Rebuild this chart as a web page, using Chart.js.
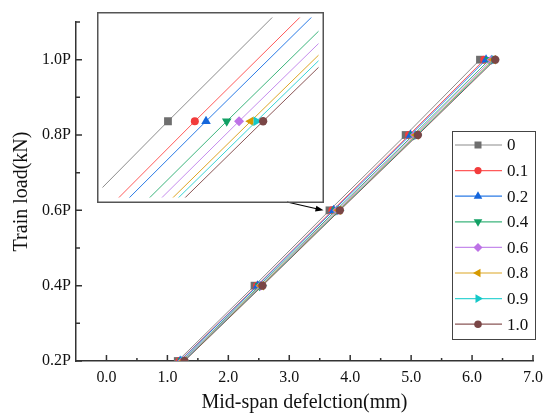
<!DOCTYPE html>
<html>
<head>
<meta charset="utf-8">
<script src="https://cdn.jsdelivr.net/npm/chart.js@4.4.1/dist/chart.umd.min.js"></script>
<style>
  body { margin: 0; background: #fff; }
  #wrap { position: relative; width: 544px; height: 415px; }
  #mainChart { position: absolute; left: 0; top: 0; }
  #insetChart { position: absolute; left: 97px; top: 12px; }
</style>
</head>
<body>
<div id="wrap">
  <canvas id="mainChart" width="544" height="415"></canvas>
  <canvas id="insetChart" width="227" height="191"></canvas>
</div>
<script>
// load levels (fraction of P)
const loads = [0.2, 0.4, 0.6, 0.8, 1.0];

// mid-span deflection (mm) for each series
const defl_0   = [1.17, 2.43, 3.660, 4.910, 6.130];
const defl_0_1 = [1.20, 2.47, 3.708, 4.966, 6.200];
const defl_0_2 = [1.21, 2.48, 3.728, 4.990, 6.230];
const defl_0_4 = [1.24, 2.51, 3.765, 5.034, 6.285];
const defl_0_6 = [1.25, 2.53, 3.787, 5.060, 6.320];
const defl_0_8 = [1.265, 2.54, 3.808, 5.084, 6.348];
const defl_0_9 = [1.27, 2.55, 3.818, 5.096, 6.363];
const defl_1_0 = [1.28, 2.56, 3.830, 5.110, 6.380];

const seriesLabels = ['0', '0.1', '0.2', '0.4', '0.6', '0.8', '0.9', '1.0'];
const seriesData = [defl_0, defl_0_1, defl_0_2, defl_0_4, defl_0_6, defl_0_8, defl_0_9, defl_1_0];

const xTickVals = [0, 1, 2, 3, 4, 5, 6, 7];
const xTickLabels = ['0.0', '1.0', '2.0', '3.0', '4.0', '5.0', '6.0', '7.0'];
const yTickVals = [0.2, 0.4, 0.6, 0.8, 1.0];
const yTickLabels = ['0.2P', '0.4P', '0.6P', '0.8P', '1.0P'];

const markerColors = ['#6e6e6e', '#f23c3c', '#1466dc', '#12a064', '#bd72e6', '#d69a00', '#14c8c8', '#7a4646'];
const lineColors   = ['#8c8c8c', '#ff5a5a', '#2b7be6', '#3cb57c', '#c58cec', '#dca625', '#3ad4d4', '#8a5656'];
const pointStyles  = ['rect', 'circle', 'triangle', 'triangle', 'rectRot', 'triangle', 'triangle', 'circle'];
const pointRots    = [0, 0, 0, 180, 0, 270, 90, 0];
const pointSizes   = [5.5, 4, 5.5, 5.5, 5, 5.5, 5.5, 4.2];

const serif = "'Liberation Serif', 'Times New Roman', serif";

function makeDatasets() {
    return seriesData.map((vals, i) => ({
        label: seriesLabels[i],
        data: vals.map((v, k) => ({x: v, y: loads[k]})),
        borderColor: lineColors[i],
        backgroundColor: markerColors[i],
        pointBackgroundColor: markerColors[i],
        pointBorderColor: markerColors[i],
        pointBorderWidth: 0,
        borderWidth: 1,
        pointRadius: pointSizes[i],
        pointStyle: pointStyles[i],
        rotation: pointRots[i],
        order: seriesData.length - i
    }));
}

// inward major / minor ticks
const innerTicks = {
    id: 'innerTicks',
    afterDraw(chart) {
        const ctx = chart.ctx;
        const xs = chart.scales.x, ys = chart.scales.y;
        const area = chart.chartArea;
        ctx.save();
        ctx.strokeStyle = '#333';
        ctx.lineWidth = 1.5;
        ctx.beginPath();
        xTickVals.forEach(v => {
            const px = xs.getPixelForValue(v);
            ctx.moveTo(px, area.bottom); ctx.lineTo(px, area.bottom - 6);
        });
        for (let v = 0.5; v < 7; v += 1) {
            const px = xs.getPixelForValue(v);
            ctx.moveTo(px, area.bottom); ctx.lineTo(px, area.bottom - 3);
        }
        yTickVals.forEach(v => {
            const py = ys.getPixelForValue(v);
            ctx.moveTo(area.left, py); ctx.lineTo(area.left + 6, py);
        });
        [0.3, 0.5, 0.7, 0.9, 1.1].forEach(v => {
            const py = ys.getPixelForValue(v);
            ctx.moveTo(area.left, py); ctx.lineTo(area.left + 4, py);
        });
        ctx.stroke();
        ctx.restore();
    }
};

// boxed legend with line + marker samples
const boxLegend = {
    id: 'boxLegend',
    afterDraw(chart) {
        const ctx = chart.ctx;
        const left = 452, top = 131, w = 83, h = 208;
        ctx.save();
        ctx.strokeStyle = '#444';
        ctx.lineWidth = 1;
        ctx.strokeRect(left + 0.5, top + 0.5, w, h);
        ctx.font = '17px ' + serif;
        ctx.textBaseline = 'middle';
        chart.data.datasets.forEach((ds, i) => {
            const y = top + 14 + i * 25.6;
            ctx.strokeStyle = ds.borderColor;
            ctx.lineWidth = 1.2;
            ctx.beginPath();
            ctx.moveTo(left + 3, y); ctx.lineTo(left + 50, y);
            ctx.stroke();
            ctx.fillStyle = ds.pointBackgroundColor;
            ctx.strokeStyle = ds.pointBackgroundColor;
            Chart.helpers.drawPoint(ctx, {pointStyle: ds.pointStyle, rotation: ds.rotation, radius: ds.pointRadius * 0.9, borderWidth: 0}, left + 26, y);
            ctx.fillStyle = '#111';
            ctx.fillText(ds.label, left + 55, y + 1);
        });
        ctx.restore();
    }
};

// arrow from the inset to the 0.6P cluster
const insetArrow = {
    id: 'insetArrow',
    afterDraw(chart) {
        const ctx = chart.ctx;
        const tx = chart.scales.x.getPixelForValue(defl_0[2]) - 6;
        const ty = chart.scales.y.getPixelForValue(loads[2]);
        const sx = 287, sy = 202;
        const ang = Math.atan2(ty - sy, tx - sx);
        ctx.save();
        ctx.strokeStyle = '#000';
        ctx.fillStyle = '#000';
        ctx.lineWidth = 1.2;
        ctx.beginPath();
        ctx.moveTo(sx, sy); ctx.lineTo(tx - 6 * Math.cos(ang), ty - 6 * Math.sin(ang));
        ctx.stroke();
        ctx.beginPath();
        ctx.moveTo(tx, ty);
        ctx.lineTo(tx - 8 * Math.cos(ang) + 3 * Math.sin(ang), ty - 8 * Math.sin(ang) - 3 * Math.cos(ang));
        ctx.lineTo(tx - 8 * Math.cos(ang) - 3 * Math.sin(ang), ty - 8 * Math.sin(ang) + 3 * Math.cos(ang));
        ctx.closePath();
        ctx.fill();
        ctx.restore();
    }
};

new Chart(document.getElementById('mainChart'), {
    type: 'line',
    data: { datasets: makeDatasets() },
    plugins: [innerTicks, boxLegend, insetArrow],
    options: {
        responsive: false,
        animation: false,
        layout: { padding: { top: 22, right: 11, left: 0, bottom: 0 } },
        plugins: { legend: { display: false }, tooltip: { enabled: false } },
        scales: {
            x: {
                type: 'linear',
                min: -0.5,
                max: 7,
                afterBuildTicks: s => { s.ticks = xTickVals.map(v => ({value: v})); },
                afterFit: s => { s.height = 54; s.paddingRight = 0; s.paddingLeft = 0; },
                grid: { display: false, drawTicks: false },
                border: { color: '#333', width: 1.5 },
                ticks: {
                    padding: 7,
                    color: '#111',
                    font: { family: serif, size: 16 },
                    callback: v => xTickLabels[xTickVals.indexOf(v)]
                },
                title: {
                    display: true,
                    text: 'Mid-span defelction(mm)',
                    color: '#111',
                    font: { family: serif, size: 20 },
                    padding: { top: 0, bottom: 0 }
                }
            },
            y: {
                type: 'linear',
                min: 0.2,
                max: 1.1,
                afterBuildTicks: s => { s.ticks = yTickVals.map(v => ({value: v})); },
                afterFit: s => { s.width = 76; s.paddingTop = 0; s.paddingBottom = 0; },
                grid: { display: false, drawTicks: false },
                border: { color: '#333', width: 1.5 },
                ticks: {
                    padding: 5,
                    color: '#111',
                    font: { family: serif, size: 16 },
                    callback: v => yTickLabels[yTickVals.indexOf(v)]
                },
                title: {
                    display: true,
                    text: 'Train load(kN)',
                    color: '#111',
                    font: { family: serif, size: 20 },
                    padding: { top: 10, bottom: 0 }
                }
            }
        }
    }
});

// zoomed view around 0.6P
const insetBorder = {
    id: 'insetBorder',
    afterDraw(chart) {
        const ctx = chart.ctx;
        ctx.save();
        ctx.strokeStyle = '#555';
        ctx.lineWidth = 1.5;
        ctx.strokeRect(0.75, 0.75, chart.width - 1.5, chart.height - 1.5);
        ctx.restore();
    }
};

new Chart(document.getElementById('insetChart'), {
    type: 'line',
    data: { datasets: makeDatasets() },
    plugins: [insetBorder],
    options: {
        responsive: false,
        animation: false,
        layout: { padding: 0 },
        plugins: { legend: { display: false }, tooltip: { enabled: false } },
        scales: {
            x: { type: 'linear', min: 3.543, max: 3.929, display: false },
            y: { type: 'linear', min: 0.5781, max: 0.6298, display: false }
        }
    }
});
</script>
</body>
</html>
